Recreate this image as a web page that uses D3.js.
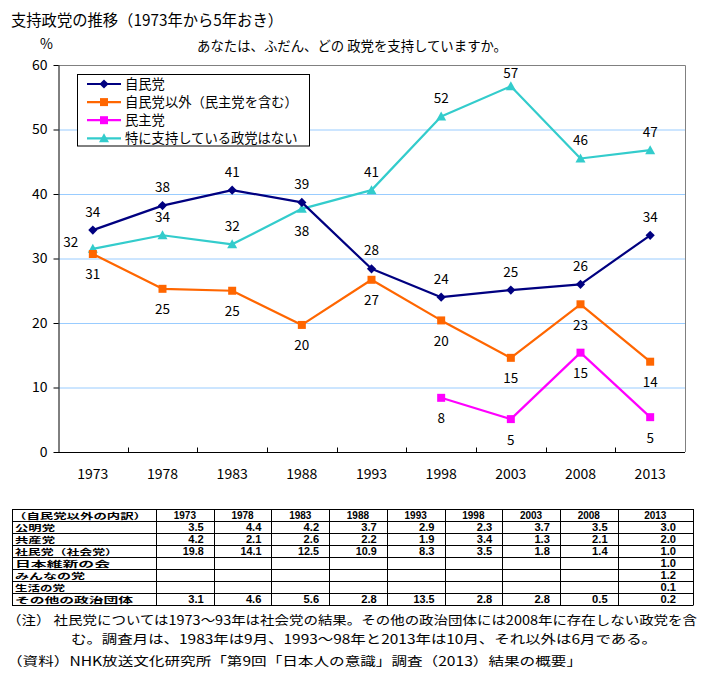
<!DOCTYPE html>
<html><head><meta charset="utf-8">
<script src="https://cdn.jsdelivr.net/npm/d3@7"></script>
<style>
body{margin:0;background:#fff;}
svg{display:block;}
text{font-family:"Noto Sans CJK JP","Noto Sans",sans-serif;fill:#000;}
.num{font-family:"Liberation Sans",Arial,sans-serif;font-weight:bold;}
</style></head>
<body><svg id="c" width="719" height="675"></svg>
<script>
// ---- data ----
const years = ["1973","1978","1983","1988","1993","1998","2003","2008","2013"];
const ldp    = [34.4, 38.2, 40.6, 38.7, 28.4, 24.0, 25.1, 26.0, 33.6];
const nonLdp = [30.7, 25.3, 25.0, 19.7, 26.7, 20.4, 14.6, 22.9, 14.0];
const dpj    = [null, null, null, null, null, 8.4, 5.1, 15.4, 5.4];
const noneP  = [31.5, 33.6, 32.2, 37.7, 40.6, 52.0, 56.7, 45.5, 46.8];
const seriesNames = ["自民党","自民党以外（民主党を含む）","民主党","特に支持している政党はない"];
const yTicks = [0,10,20,30,40,50,60];

const tableHeader = "（自民党以外の内訳）";
const tableRows = ["公明党","共産党","社民党（社会党）","日本維新の会","みんなの党","生活の党","その他の政治団体"];
const komei    = [3.5, 4.4, 4.2, 3.7, 2.9, 2.3, 3.7, 3.5, 3.0];
const kyosan   = [4.2, 2.1, 2.6, 2.2, 1.9, 3.4, 1.3, 2.1, 2.0];
const shamin   = [19.8, 14.1, 12.5, 10.9, 8.3, 3.5, 1.8, 1.4, 1.0];
const ishin    = [null, null, null, null, null, null, null, null, 1.0];
const minna    = [null, null, null, null, null, null, null, null, 1.2];
const seikatsu = [null, null, null, null, null, null, null, null, 0.1];
const others   = [3.1, 4.6, 5.6, 2.8, 13.5, 2.8, 2.8, 0.5, 0.2];

const title = "支持政党の推移（1973年から5年おき）";
const subtitle = "あなたは、ふだん、どの 政党を支持していますか。";
const note1 = "（注） 社民党については1973～93年は社会党の結果。その他の政治団体には2008年に存在しない政党を含";
const note2 = "む。調査月は、1983年は9月、1993～98年と2013年は10月、それ以外は6月である。";
const source = "（資料）NHK放送文化研究所「第9回「日本人の意識」調査（2013）結果の概要」";

// ---- layout ----
const svg = d3.select("#c");
svg.append("rect").attr("width",719).attr("height",675).attr("fill","#fff");
const L=58, R=685, T=65, B=452;
const x = d3.scaleBand().domain(years).range([L,R]);
const cx = d => x(d) + x.bandwidth()/2;
const y = d3.scaleLinear().domain([0,60]).range([B,T]);

// title
svg.append("text").attr("x",11).attr("y",26).attr("font-size",15.5)
  .attr("textLength",272).attr("lengthAdjust","spacingAndGlyphs").text(title);
svg.append("text").attr("x",40).attr("y",49).attr("font-size",14).text("%");
svg.append("text").attr("x",197).attr("y",51).attr("font-size",13.5)
  .attr("textLength",310).attr("lengthAdjust","spacingAndGlyphs").text(subtitle);

// gridlines
svg.append("g").selectAll("line").data(yTicks.filter(v=>v>0&&v<60)).join("line")
  .attr("x1",L).attr("x2",R).attr("y1",d=>y(d)+0.5).attr("y2",d=>y(d)+0.5)
  .attr("stroke","#99ccff").attr("stroke-width",1);
// plot border top/right
svg.append("path").attr("d",`M${L},${T+0.5}H${R+0.5}V${B}`).attr("fill","none")
  .attr("stroke","#808080").attr("stroke-width",1);

// y axis
const ya = svg.append("g").attr("transform",`translate(${L+0.5},0)`)
  .call(d3.axisLeft(y).tickValues(yTicks).tickSize(5).tickPadding(6).tickSizeOuter(0));
ya.select(".domain").attr("stroke","#000");
ya.selectAll(".tick line").attr("stroke","#000");
ya.selectAll(".tick text").attr("font-size",14).attr("font-family",'"Noto Sans CJK JP",sans-serif').attr("fill","#000");

// x axis
const xa = svg.append("g").attr("transform",`translate(0,${B+0.5})`);
xa.append("line").attr("x1",L).attr("x2",R).attr("stroke","#000");
xa.selectAll("line.tk").data(years.slice(1)).join("line").attr("class","tk")
  .attr("x1",d=>Math.round(x(d))+0.5).attr("x2",d=>Math.round(x(d))+0.5).attr("y1",0).attr("y2",-5).attr("stroke","#000");
xa.selectAll("text").data(years).join("text")
  .attr("x",d=>cx(d)).attr("y",26).attr("text-anchor","middle").attr("font-size",14).text(d=>d);

// series
const series = [
  {name:seriesNames[0], vals:ldp, color:"#000080", marker:"diamond", pos:"above"},
  {name:seriesNames[1], vals:nonLdp, color:"#ff6600", marker:"square", pos:"below"},
  {name:seriesNames[2], vals:dpj, color:"#ff00ff", marker:"square", pos:"below"},
  {name:seriesNames[3], vals:noneP, color:"#33cccc", marker:"triangle", pos:"above"}
];
function markerPath(type){
  if(type==="diamond") return "M0,-4.6L4.6,0L0,4.6L-4.6,0Z";
  if(type==="square") return "M-4,-4H4V4H-4Z";
  return "M0,-5L5,4H-5Z";
}
const line = d3.line().defined(d=>d.v!=null).x(d=>cx(d.k)).y(d=>y(d.v));
[3,1,2,0].forEach(i=>{
  const s = series[i];
  const pts = years.map((k,j)=>({k, v:s.vals[j], j}));
  svg.append("path").datum(pts).attr("d",line).attr("fill","none")
    .attr("stroke",s.color).attr("stroke-width",2.2).attr("stroke-linejoin","round");
  svg.append("g").selectAll("path").data(pts.filter(p=>p.v!=null)).join("path")
    .attr("d",markerPath(s.marker)).attr("fill",s.color)
    .attr("transform",p=>`translate(${cx(p.k)},${y(p.v)})`);
});
// data labels
series.forEach((s,i)=>{
  const pts = years.map((k,j)=>({k, v:s.vals[j], j})).filter(p=>p.v!=null);
  svg.append("g").selectAll("text").data(pts).join("text")
    .attr("font-size",13.5).attr("text-anchor","middle")
    .attr("x",p=>{
      if(i===3 && p.j===0) return cx(p.k)-22;
      return cx(p.k);
    })
    .attr("y",p=>{
      const py = y(p.v);
      let c;
      if(i===3 && p.j===0) c = py-7;
      else if(i===3 && p.j===3) c = py+22;
      else if(s.pos==="above") c = Math.max(py-18.5, T+8);
      else c = py+20.5;
      return c+5;
    })
    .text(p=>Math.round(p.v));
});

// legend
const lg = svg.append("g");
lg.append("rect").attr("x",77.5).attr("y",74.5).attr("width",232).attr("height",71.5)
  .attr("fill","#fff").attr("stroke","#000").attr("stroke-width",1);
series.forEach((s,i)=>{
  const ry = 84 + i*18.1;
  lg.append("line").attr("x1",87).attr("x2",121).attr("y1",ry).attr("y2",ry)
    .attr("stroke",s.color).attr("stroke-width",2.2);
  lg.append("path").attr("d",markerPath(s.marker)).attr("fill",s.color)
    .attr("transform",`translate(104,${ry})`);
  lg.append("text").attr("x",125).attr("y",ry+5).attr("font-size",13.3).text(s.name);
});

// table
const tblRowsData = [komei,kyosan,shamin,ishin,minna,seikatsu,others];
const labelW = [40,40,103,95,70,50,118];
const colEdges = [12,156];
for(let i=0;i<8;i++) colEdges.push(156+(i+1)*57.7);
colEdges.push(693);
const rowTop = 509, rowH = 12;
const nRows = tblRowsData.length+1;
const tg = svg.append("g");
for(let r=0;r<=nRows;r++){
  tg.append("line").attr("x1",colEdges[0]).attr("x2",colEdges[colEdges.length-1])
    .attr("y1",rowTop+r*rowH+0.5).attr("y2",rowTop+r*rowH+0.5).attr("stroke","#000");
}
colEdges.forEach(cxE=>{
  tg.append("line").attr("x1",Math.round(cxE)+0.5).attr("x2",Math.round(cxE)+0.5)
    .attr("y1",rowTop).attr("y2",rowTop+nRows*rowH+0.5).attr("stroke","#000");
});
const lblFs = 8.2;
tg.append("text").attr("x",13).attr("y",rowTop+rowH-2.5).attr("font-size",lblFs)
  .attr("font-weight","bold")
  .attr("textLength",134).attr("lengthAdjust","spacingAndGlyphs").text(tableHeader);
years.forEach((yr,j)=>{
  tg.append("text").attr("class","num").attr("x",(colEdges[j+1]+colEdges[j+2])/2)
    .attr("y",rowTop+rowH-2.5).attr("text-anchor","middle").attr("font-size",10).text(yr);
});
tableRows.forEach((nm,r)=>{
  const by = rowTop+(r+2)*rowH-2.5;
  tg.append("text").attr("x",15).attr("y",by).attr("font-size",lblFs).attr("font-weight","bold")
    .attr("textLength",labelW[r]).attr("lengthAdjust","spacingAndGlyphs").text(nm);
  tblRowsData[r].forEach((v,j)=>{
    if(v==null) return;
    const pad = (j===8)?17:10;
    tg.append("text").attr("class","num").attr("x",colEdges[j+2]-pad).attr("y",by)
      .attr("text-anchor","end").attr("font-size",10).attr("textLength",v>=10?21:15.5)
      .attr("lengthAdjust","spacingAndGlyphs").text(v.toFixed(1));
  });
});

// notes
svg.append("text").attr("x",7).attr("y",625).attr("font-size",12.5)
  .attr("textLength",690).attr("lengthAdjust","spacingAndGlyphs").text(note1);
svg.append("text").attr("x",71).attr("y",643.5).attr("font-size",12.5)
  .attr("textLength",586).attr("lengthAdjust","spacingAndGlyphs").text(note2);
svg.append("text").attr("x",7).attr("y",666).attr("font-size",12.5)
  .attr("textLength",575).attr("lengthAdjust","spacingAndGlyphs").text(source);
</script></body></html>
